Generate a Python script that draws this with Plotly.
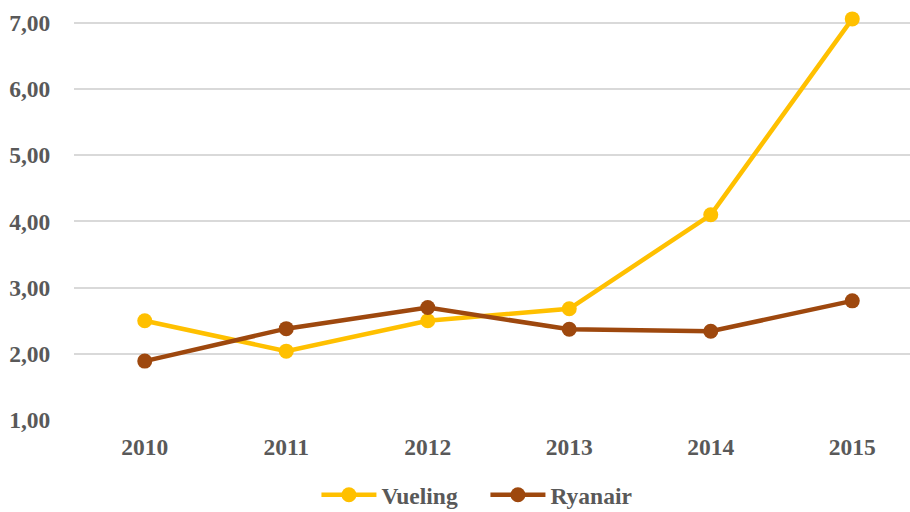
import plotly.graph_objects as go

years = [2010, 2011, 2012, 2013, 2014, 2015]
year_labels = ["2010", "2011", "2012", "2013", "2014", "2015"]
vueling = [2.50, 2.04, 2.50, 2.68, 4.10, 7.06]
ryanair = [1.89, 2.38, 2.70, 2.37, 2.34, 2.80]
y_ticks = [1, 2, 3, 4, 5, 6, 7]

FONT = dict(family="Liberation Serif, Times New Roman, serif", size=23.5, color="#595959", weight="bold")

fig = go.Figure()
fig.add_trace(go.Scatter(x=years, y=vueling, name="Vueling", mode="lines+markers",
                         line=dict(color="#FFC000", width=4.5),
                         marker=dict(color="#FFC000", size=15)))
fig.add_trace(go.Scatter(x=years, y=ryanair, name="Ryanair", mode="lines+markers",
                         line=dict(color="#9E480E", width=4.5),
                         marker=dict(color="#9E480E", size=15)))

fig.update_layout(
    width=910, height=512,
    margin=dict(l=74, r=0, t=3, b=92, autoexpand=False),
    paper_bgcolor="white", plot_bgcolor="white",
    separators=",.",
    font=FONT,
    showlegend=True,
    legend=dict(orientation="h", x=0.29, xanchor="left", y=-0.2326, yanchor="bottom",
                font=FONT, itemwidth=55, entrywidth=99, traceorder="normal",
                bgcolor="rgba(0,0,0,0)"),
    xaxis=dict(range=[2009.5, 2015.408], tickvals=years, ticktext=year_labels,
               showgrid=False, zeroline=False, showline=False,
               ticks="outside", ticklen=6, tickcolor="rgba(0,0,0,0)",
               tickfont=FONT),
    yaxis=dict(range=[1, 7.3], tickvals=y_ticks, tickformat=".2f",
               showgrid=True, gridcolor="#D9D9D9", gridwidth=1.5,
               zeroline=False, showline=False,
               ticks="outside", ticklen=18, tickcolor="rgba(0,0,0,0)",
               tickfont=FONT),
)

fig.write_html("out.html")
